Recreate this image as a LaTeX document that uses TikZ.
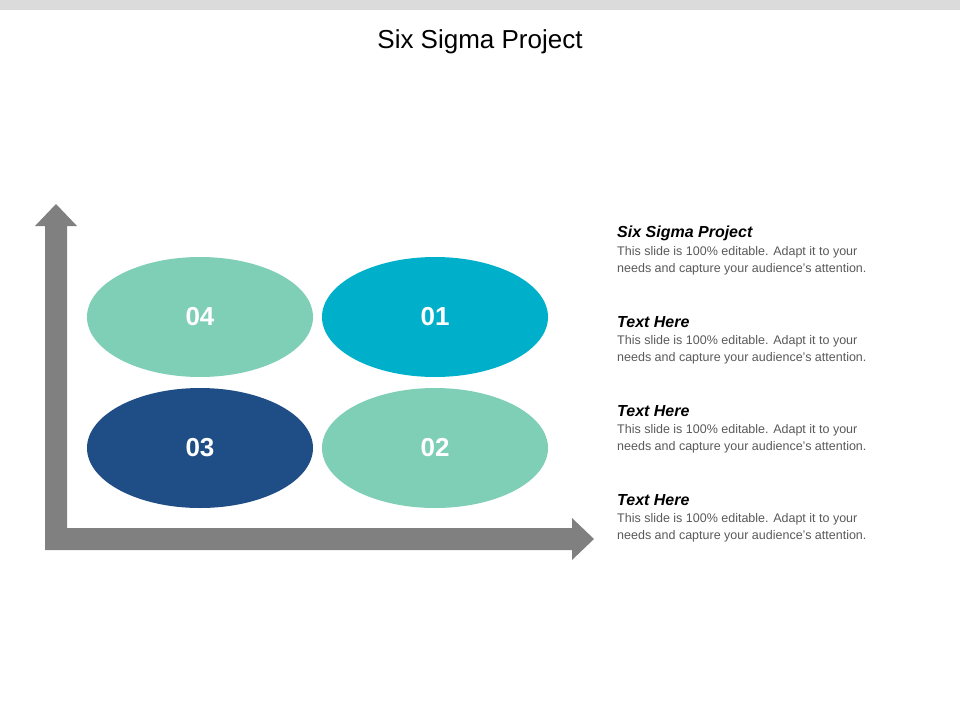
\documentclass[tikz,border=0pt]{standalone}
\usepackage{fontspec}
\setmainfont{Liberation Sans}
\usepackage{tikz}
\usetikzlibrary{positioning,shapes.geometric}
\definecolor{mintgreen}{RGB}{127,206,182}
\definecolor{skycyan}{RGB}{0,176,202}
\definecolor{navyblue}{RGB}{31,78,135}
\definecolor{axisgray}{RGB}{128,128,128}
\definecolor{bodygray}{RGB}{89,89,89}
\tikzset{
  blob/.style={ellipse,minimum width=226pt,minimum height=120pt,inner sep=0pt,
    text=white,font=\fontsize{26}{30}\selectfont\bfseries},
  headtext/.style={anchor=west,inner sep=0pt,font=\fontsize{16}{19}\selectfont\bfseries\itshape},
  bodytext/.style={anchor=north west,inner sep=0pt,text=bodygray,align=left,
    font=\fontsize{12.5}{17.5}\selectfont},
}
\begin{document}
\begin{tikzpicture}[x=1pt,y=-1pt]
	\useasboundingbox (0,0) rectangle (960,720);
	\fill[black!14] (0,0) rectangle (960,10);
	\node (title) at (480,42) {\fontsize{26}{30}\selectfont Six Sigma Project};
	% axes
	\fill[axisgray] (45,550) -- (45,226) -- (35,226) -- (56,204) -- (77,226) -- (67,226)
	  -- (67,528) -- (572,528) -- (572,518) -- (594,539) -- (572,560) -- (572,550) -- cycle;
	\node[blob,fill=mintgreen] (e4) at (200,317) {04};
	\node[blob,fill=skycyan] (e1) at (435,317) {01};
	\node[blob,fill=navyblue] (e3) at (200,448) {03};
	\node[blob,fill=mintgreen] (e2) at (435,448) {02};
	% text column
	\foreach \name/\y/\head in {t1/233/Six Sigma Project,t2/322/Text Here,t3/411/Text Here,t4/500/Text Here}{
	  \node[headtext] (\name) at (617,\y) {\head};
	  \node[bodytext] (\name b) at (617,\y+13) {This slide is 100\% editable. Adapt it to your\\needs and capture your audience's attention.};
	}
\end{tikzpicture}
\end{document}
